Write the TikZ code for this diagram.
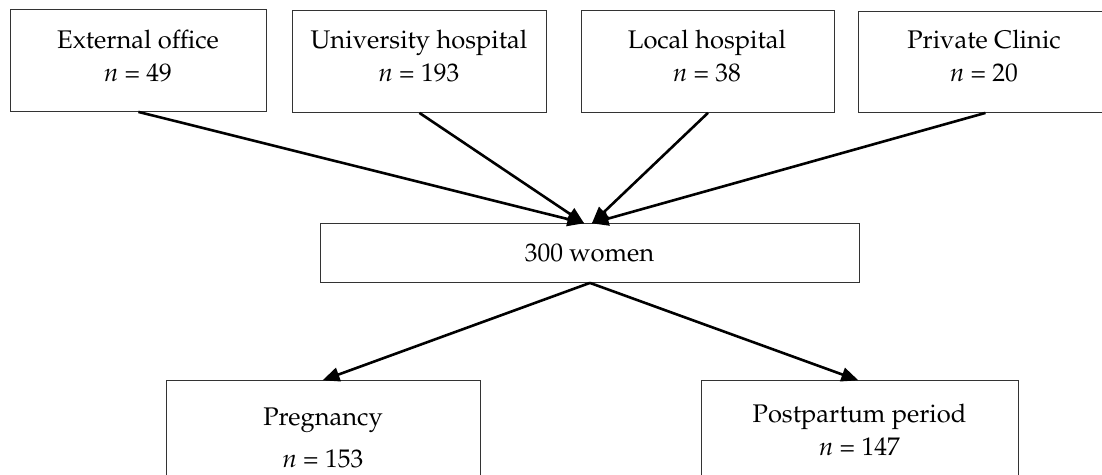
\documentclass[tikz,border=0pt]{standalone}
\usepackage[T1]{fontenc}
\usepackage{mathpazo}
\usetikzlibrary{arrows.meta}
\begin{document}
\begin{tikzpicture}[x=1pt,y=-1pt,
  box/.style={draw=black!80,line width=0.9pt,fill=none,inner sep=0pt,anchor=north west},
  lbl/.style={anchor=base,inner sep=0pt,align=center,font=\fontsize{25.5}{33}\selectfont},
  conn/.style={line width=2.6pt,-{Triangle[length=17pt,width=14pt]},shorten >=-1pt}
]
\clip (0,0) rectangle (1102,474);
\fill[white] (0,0) rectangle (1102,474);
% top boxes
\node[box,minimum width=256pt,minimum height=102pt] (b1) at (10,9) {};
\node[box,minimum width=254pt,minimum height=102pt] (b2) at (292,10) {};
\node[box,minimum width=253pt,minimum height=102pt] (b3) at (581,10) {};
\node[box,minimum width=254pt,minimum height=101pt] (b4) at (858,11) {};
\node[lbl] (t1) at (138,81) {External office\\\textit{n} = 49};
\node[lbl] (t2) at (419,81) {University hospital\\\textit{n} = 193};
\node[lbl] (t3) at (707,81) {Local hospital\\\textit{n} = 38};
\node[lbl] (t4) at (984,81) {Private Clinic\\\textit{n} = 20};
% middle box
\node[box,minimum width=539pt,minimum height=59pt] (mid) at (320,223) {};
\node[lbl] (tm) at (589.5,261) {300 women};
% bottom boxes
\node[box,minimum width=314pt,minimum height=140pt] (p1) at (166,380) {};
\node[box,minimum width=317pt,minimum height=140pt] (p2) at (701,380) {};
\node[lbl] (tp1) at (323,467) {Pregnancy\\[9pt]\textit{n} = 153};
\node[lbl] (tp2) at (859.5,455) {Postpartum period\\\textit{n} = 147};
% connectors
\draw[conn] (b1.south) -- ([xshift=-6.5pt]mid.north);
\draw[conn] (b2.south) -- ([xshift=-6.5pt]mid.north);
\draw[conn] (b3.south) -- ([xshift=2.5pt]mid.north);
\draw[conn] (b4.south) -- ([xshift=2.5pt]mid.north);
\draw[conn] (mid.south) -- (p1.north);
\draw[conn] (mid.south) -- ([xshift=-2.5pt]p2.north);
\end{tikzpicture}
\end{document}
